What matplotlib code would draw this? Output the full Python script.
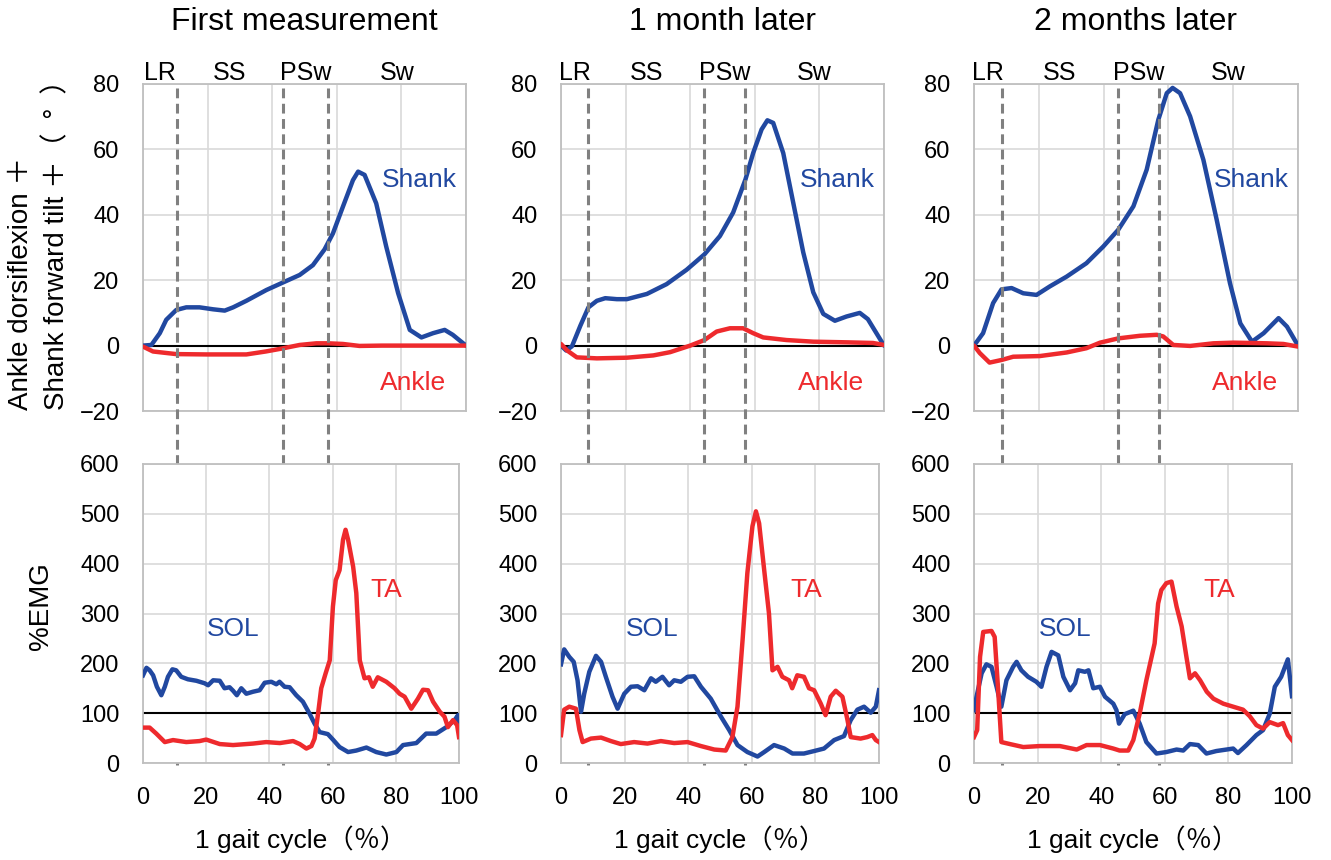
import matplotlib
matplotlib.use('Agg')
import matplotlib.pyplot as plt
import matplotlib.transforms as mtransforms

plt.rcParams['font.family'] = ['Liberation Sans', 'Noto Sans CJK JP', 'DejaVu Sans']

BLUE = '#2148a0'
RED = '#ee2a2d'

titles = ['First measurement', '1 month later', '2 months later']
phase_names = ['LR', 'SS', 'PSw', 'Sw']
# phase boundaries (% gait cycle) for each session
phase_bounds = [
    [10.5, 43.3, 57.3],
    [8.4, 44.3, 57.0],
    [8.6, 44.4, 57.1],
]

# ---- joint angles (deg) ----
shank_x = [
    [0, 2.6, 5.2, 7.2, 10.3, 13.4, 17.5, 21.7, 25.3, 27.9, 32, 38.2, 43.1, 48.5, 52.6, 56.2,
     58.8, 61.9, 65, 66.6, 68.6, 72.2, 75.3, 79, 82.6, 86.2, 89.8, 93.4, 95.9, 100],
    [0, 1.6, 3.4, 6, 8.5, 11.1, 13.7, 17.3, 20.4, 26.6, 32.7, 38.9, 44.4, 49.2, 53.3, 57.1,
     59.5, 62.1, 63.9, 65.7, 68.8, 71.9, 75, 78.1, 81.2, 84.8, 88.4, 92.5, 95, 100],
    [0, 2.8, 5.9, 8.5, 11.6, 15.2, 19.3, 23.4, 28.6, 34.7, 39.9, 44.5, 49.2, 53.3, 56.9, 59.5,
     61.3, 63.6, 66.7, 70.8, 74.9, 79, 82.2, 85.8, 89.4, 94, 96.6, 100],
]
shank_y = [
    [0, 0.2, 3.8, 7.9, 10.9, 11.7, 11.7, 11.1, 10.7, 11.7, 13.7, 17.0, 19.2, 21.6, 24.6, 29.4,
     34.3, 42.5, 50.6, 53.2, 52.2, 43.5, 30.3, 16, 4.8, 2.5, 3.8, 4.8, 3.3, 0],
    [0, -1.5, -0.2, 6.1, 11.7, 13.7, 14.5, 14.2, 14.2, 15.8, 18.8, 23.2, 27.9, 33.5, 40.7, 50.8,
     58.9, 66.1, 68.9, 68.1, 58.9, 43.7, 28.5, 16.3, 9.7, 7.6, 8.9, 10, 8.1, 0],
    [0, 3.8, 13, 17.2, 17.6, 16, 15.5, 18.1, 21.1, 25.2, 30.3, 35.4, 42.6, 53.8, 69.1, 77.2,
     78.8, 77.2, 70.1, 56.8, 38.5, 19.1, 6.8, 1.2, 3.8, 8.4, 5.8, 0],
]
ankle_x = [
    [0, 3.1, 10.3, 19.6, 32, 38, 43, 48.5, 53.7, 57.3, 61.9, 67, 74, 100],
    [0, 1.9, 4.9, 11.1, 20.4, 28.6, 33.8, 40, 44.4, 48.2, 52.3, 56.4, 59.5, 62.6, 69.8, 78.1,
     88.4, 96.6, 100],
    [0, 1.8, 4.8, 8.5, 12.1, 20.3, 28.6, 34.7, 38.9, 44.5, 51.2, 56.4, 58.4, 61.5, 66.7, 73.9,
     80.1, 90.4, 95.5, 100],
]
ankle_y = [
    [-0.3, -1.8, -2.6, -2.7, -2.7, -1.8, -0.9, 0.2, 0.7, 0.7, 0.5, -0.1, 0, 0],
    [0.5, -1.5, -3.6, -3.9, -3.7, -3.0, -2.0, 0, 1.7, 4.3, 5.3, 5.3, 3.8, 2.5, 1.7, 1.2,
     1.0, 0.8, 0.2],
    [0, -2.3, -5.2, -4.4, -3.4, -3.2, -2.1, -0.8, 0.9, 2.2, 3.0, 3.3, 2.8, 0.2, -0.1, 0.7,
     0.9, 0.7, 0.5, -0.3],
]

# ---- EMG (% of reference) ----
sol_x = [
    [0, 1.1, 2.1, 3.2, 4.4, 5.8, 6.9, 7.9, 9.3, 10.5, 12.1, 14.2, 16.9, 19.5, 20.6, 22.2, 24.3,
     25.8, 27.4, 28.5, 29.7, 31.1, 32.7, 34.8, 36.9, 38.5, 40.6, 42.2, 43.2, 44.8, 46.4, 48.5,
     50.6, 52.7, 54.3, 55.9, 58.5, 60.1, 62.2, 64.9, 67.5, 70.7, 73.8, 77, 80.2, 82.3, 86.5,
     89.6, 92.8, 96, 98.6, 99.7, 100],
    [0, 1, 2.6, 4, 5.2, 6.3, 7.3, 8.9, 11, 12.6, 14.1, 16.2, 17.8, 19.9, 22, 24.1, 26.2, 28.3,
     29.8, 31.9, 34, 35.6, 37.7, 39.8, 41.9, 44, 47.1, 50.3, 52.9, 55.5, 58.6, 61.8, 63.9, 67,
     70.2, 72.8, 76.4, 79.6, 82.7, 85.9, 89, 91.1, 93.2, 95.3, 97.4, 99, 100],
    [0, 0.8, 2.4, 3.9, 5.5, 7.1, 8.6, 10.2, 12.3, 13.4, 14.9, 17, 19.6, 21.2, 22.8, 24.4, 26.5,
     28.1, 30.2, 31.8, 32.8, 34.9, 36, 37.5, 39.6, 41.2, 43.8, 44.8, 45.6, 47.4, 50.1, 52.1,
     54.2, 57.4, 60.5, 63.7, 65.8, 67.9, 70.5, 73.1, 76.2, 79.4, 81.5, 83, 85.7, 88.8, 90.9,
     93, 94.6, 96.6, 98.7, 100],
]
sol_y = [
    [176, 191, 186, 176, 153, 136, 153, 173, 188, 186, 173, 168, 165, 160, 156, 166, 165, 150,
     152, 145, 136, 150, 139, 143, 146, 161, 163, 158, 163, 153, 152, 136, 123, 99, 79, 62, 58,
     47, 32, 22, 25, 31, 22, 17, 22, 36, 40, 59, 59, 72, 86, 96, 76],
    [198, 228, 213, 203, 166, 103, 139, 183, 215, 203, 173, 133, 109, 139, 153, 154, 146, 170,
     163, 173, 156, 166, 163, 173, 174, 153, 129, 93, 66, 36, 22, 13, 22, 36, 29, 19, 19, 24,
     29, 46, 54, 86, 107, 113, 101, 113, 146],
    [106, 133, 180, 198, 193, 153, 113, 166, 193, 203, 186, 173, 163, 153, 193, 223, 216, 173,
     146, 160, 186, 183, 186, 150, 153, 133, 119, 106, 79, 98, 105, 79, 42, 19, 22, 27, 25,
     38, 36, 19, 24, 27, 29, 20, 36, 56, 66, 99, 153, 173, 208, 134],
]
ta_x = [
    [0, 2.1, 4.2, 6.9, 9.5, 13.7, 17.9, 20, 24.3, 28.5, 34.8, 39, 43.3, 47.5, 49.6, 51.7, 53.3,
     54.3, 55.4, 56.4, 57.8, 59.1, 60.1, 61, 62.2, 63.3, 64.1, 64.9, 66.5, 67.5, 68.6, 70.1,
     71.5, 72.7, 74.3, 77, 79.6, 81.2, 82.8, 84.9, 87, 88.6, 90.2, 91.8, 93.9, 95.4, 96.5, 98.1,
     99.4, 100],
    [0, 1, 2.6, 4.7, 5.8, 6.8, 9.4, 12.6, 15.7, 18.8, 23, 27.2, 31.4, 35.6, 39.8, 44, 48.2,
     51.8, 53.9, 55.5, 57.1, 58.6, 60.2, 61.3, 62.3, 63.9, 65.4, 66.5, 68.1, 69.6, 71.7, 72.7,
     74.3, 76.4, 78, 79.6, 81.7, 83.2, 84.8, 86.4, 88.5, 90.1, 91.1, 94.2, 96.3, 97.9, 99, 100],
    [0, 1, 1.9, 2.9, 5.5, 6.5, 7.6, 8.6, 11.3, 15.5, 20.7, 27, 32.3, 35.4, 39.6, 43.8, 45.8,
     48.5, 50.1, 52.1, 54.2, 56.8, 57.9, 58.9, 60.5, 62.1, 63.7, 65.3, 66.8, 67.9, 69.5, 71.1,
     73.2, 75.3, 78.4, 81.5, 84.6, 86.7, 88.8, 90.9, 93, 95.6, 97.2, 98.7, 100],
]
ta_y = [
    [71, 71, 59, 42, 46, 42, 44, 47, 38, 36, 39, 42, 40, 44, 38, 29, 34, 49, 99, 150, 180, 206,
     314, 367, 387, 448, 468, 448, 394, 341, 206, 170, 172, 153, 172, 163, 150, 139, 133, 109,
     129, 147, 146, 123, 103, 93, 72, 86, 76, 52],
    [56, 107, 113, 109, 66, 42, 49, 51, 44, 38, 42, 39, 44, 40, 42, 34, 27, 25, 52, 113, 247,
     381, 475, 505, 481, 387, 300, 186, 193, 173, 166, 150, 176, 173, 150, 146, 119, 96, 133,
     145, 133, 86, 52, 49, 52, 56, 46, 42],
    [52, 66, 213, 263, 265, 253, 146, 42, 38, 32, 34, 34, 27, 36, 36, 29, 25, 25, 46, 99, 166,
     240, 320, 347, 361, 364, 314, 274, 213, 170, 180, 166, 143, 129, 119, 113, 107, 94, 76,
     69, 82, 76, 80, 56, 46],
]

W, H = 1331, 860
fig = plt.figure(figsize=(W / 100, H / 100), dpi=100)

top_left = [143, 561, 974]
top_w = [323, 323, 324]
bot_w = [316, 318, 318]
FS = 17


def px_rect(l, t, w, h):
    return [l / W, 1 - (t + h) / H, w / W, h / H]


def style(ax):
    for s in ax.spines.values():
        s.set_color('#bfbfbf')
        s.set_linewidth(1.3)
    ax.grid(True, color='#d9d9d9', linewidth=1.2)
    ax.set_axisbelow(True)
    ax.tick_params(length=0, labelsize=FS, pad=17)
    ax.set_xlim(0, 100)
    ax.set_xticks(range(0, 101, 20))


for i in range(3):
    ax1 = fig.add_axes(px_rect(top_left[i], 84, top_w[i], 327))
    ax2 = fig.add_axes(px_rect(top_left[i], 464, bot_w[i], 299))
    style(ax1)
    style(ax2)

    ax1.set_ylim(-20, 80)
    ax1.set_yticks(range(-20, 81, 20))
    ax1.set_yticklabels(['\u221220', '0', '20', '40', '60', '80'])
    ax1.tick_params(labelbottom=False)
    ax1.axhline(0, color='black', linewidth=1.5, zorder=2)
    ax1.plot(shank_x[i], shank_y[i], color=BLUE, linewidth=3.2, zorder=3,
             solid_joinstyle='round', solid_capstyle='round')
    ax1.plot(ankle_x[i], ankle_y[i], color=RED, linewidth=3.2, zorder=3,
             solid_joinstyle='round', solid_capstyle='round')
    ax1.text(85.5, 50.5, 'Shank', color=BLUE, fontsize=19, ha='center', va='center')
    ax1.text(83.5, -11.5, 'Ankle', color=RED, fontsize=19, ha='center', va='center')

    ax2.set_ylim(0, 600)
    ax2.set_yticks(range(0, 601, 100))
    ax2.axhline(100, color='black', linewidth=1.5, zorder=2)
    ax2.plot(sol_x[i], sol_y[i], color=BLUE, linewidth=3.2, zorder=3, solid_joinstyle='round')
    ax2.plot(ta_x[i], ta_y[i], color=RED, linewidth=3.2, zorder=3, solid_joinstyle='round')
    ax2.text(28.6, 268, 'SOL', color=BLUE, fontsize=19, ha='center', va='center')
    ax2.text(77, 347, 'TA', color=RED, fontsize=19, ha='center', va='center')
    ax2.set_xlabel('1 gait cycle（％）', fontsize=19, labelpad=12)

    # phase boundaries spanning both panels
    trans = mtransforms.blended_transform_factory(ax1.transData, ax1.transAxes)
    for b in phase_bounds[i]:
        ax1.plot([b, b], [0.988, -1.083], transform=trans, clip_on=False, color='#808080',
                 linewidth=2.2, linestyle=(0, (3.2, 1.8)), zorder=4)
    edges = [0] + phase_bounds[i] + [100]
    for k, name in enumerate(phase_names):
        ax1.text((edges[k] + edges[k + 1]) / 2, 1.034, name, transform=trans,
                 fontsize=18, ha='center', va='center')

    ax1.text(0.5, 1.0 + 62 / 327, titles[i], transform=ax1.transAxes,
             fontsize=23, ha='center', va='center')

fig.text(21 / W, 1 - 410 / H, 'Ankle dorsiflexion ＋', rotation=90, fontsize=20,
         ha='center', va='bottom')
fig.text(57 / W, 1 - 410 / H, 'Shank forward tilt ＋（\u2002°\u2002）', rotation=90,
         fontsize=20, ha='center', va='bottom')
fig.text(41 / W, 1 - 606 / H, '%EMG', rotation=90, fontsize=20, ha='center', va='center')

fig.savefig('out.png', dpi=100)
